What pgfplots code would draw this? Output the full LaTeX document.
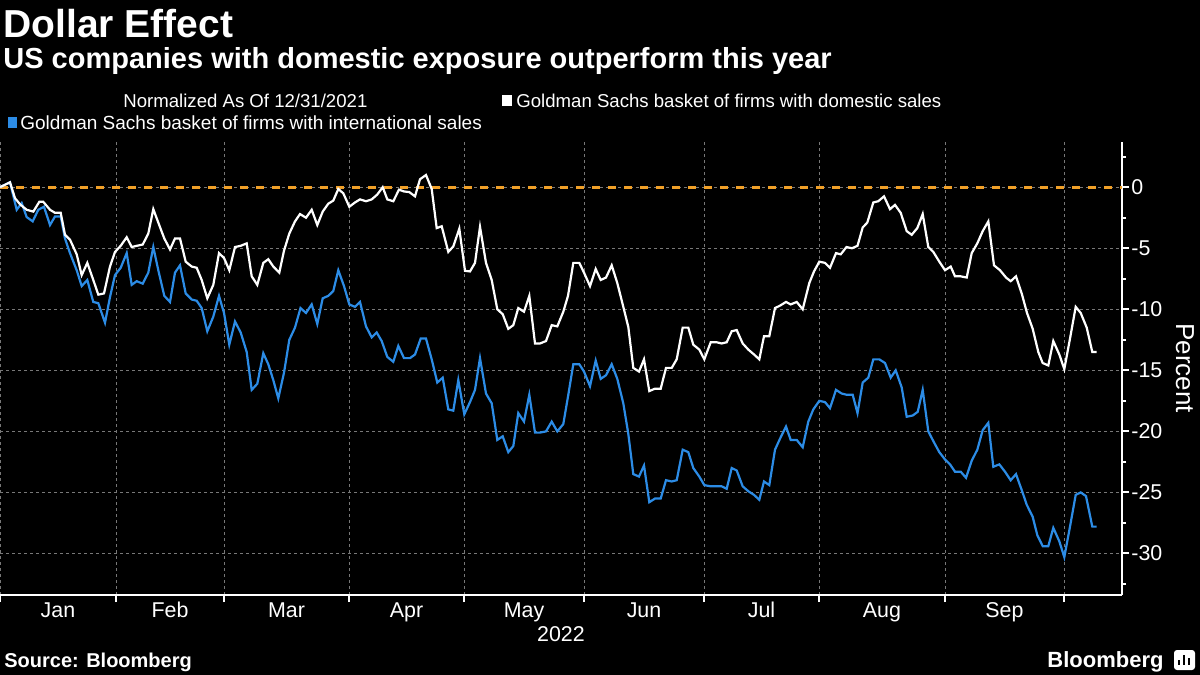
\documentclass[border=0pt]{standalone}
\usepackage{fontspec}
\setmainfont{Liberation Sans}
\usepackage{pgfplots}
\pgfplotsset{compat=1.18}
\definecolor{bblue}{RGB}{44,140,230}
\definecolor{borange}{RGB}{240,160,40}
\definecolor{bgrid}{RGB}{120,120,120}
\begin{document}
\begin{tikzpicture}
\fill[black] (0,0) rectangle (600pt,-337.5pt);
\begin{axis}[
  at={(0pt,-297.5pt)}, anchor=south west,
  scale only axis, width=561pt, height=226.5pt,
  xmin=0, xmax=1122, ymin=-33.4, ymax=3.7,
  axis x line*=bottom, axis y line*=right,
  axis line style={white, line width=1pt},
  xtick={0,116,224,349,464,584,704,819,945,1064},
  xticklabels={},
  extra x ticks={58,170,286.5,406.5,524,644,761.5,882,1004.5},
  extra x tick labels={Jan,Feb,Mar,Apr,May,Jun,Jul,Aug,Sep},
  extra x tick style={grid=none, major tick length=0pt, xticklabel style={anchor=base, inner sep=0pt, yshift=-11pt}},
  ytick={-30,-25,-20,-15,-10,-5,0},
  minor ytick={-32.5,-27.5,-22.5,-17.5,-12.5,-7.5,-2.5,2.5},
  /pgf/number format/assume math mode=true,
  yticklabel style={anchor=west, inner sep=0pt, xshift=1pt},
  xmajorgrids, ymajorgrids,
  major grid style={bgrid, line width=0.5pt, dash pattern=on 1.5pt off 1.5pt},
  tick align=outside,
  major tick length=3.5pt, minor tick length=2pt,
  every tick/.style={white, line width=1pt},
  tick label style={white, font=\fontsize{10.7}{12}\selectfont},
]
\addplot[borange, line width=1.4pt, dash pattern=on 4pt off 4pt] coordinates {(0,0) (1122,0)};
\addplot[bblue, line width=1.1pt] coordinates {
(0,0) (10,0.4) (16.7,-1.85) (21.7,-1.3) (26.7,-2.45) (32.7,-2.8) (38.3,-1.85) (44,-1.6) (50,-3.1) (55,-2.4) (60.7,-2.4) (65,-4.2) (70,-5.4) (76.7,-6.8) (81.7,-8.1) (87.3,-7.6) (93.3,-9.4) (98.3,-9.5) (105,-11.1) (110,-9.0) (115,-7.2) (120.7,-6.6) (126.7,-5.4) (131.7,-8.0) (136.7,-7.7) (142.7,-7.9) (148.3,-7.0) (153.3,-4.9) (158.3,-6.8) (164.3,-8.9) (170,-9.4) (175,-7.0) (180,-6.4) (185.7,-8.7) (191.7,-9.2) (196.7,-9.3) (201.7,-9.9) (207.3,-11.8) (213.3,-10.6) (219,-8.9) (224,-10.3) (229.3,-12.9) (235,-11.0) (240.7,-11.9) (246.7,-13.5) (251.7,-16.6) (257.3,-16.1) (263.3,-13.6) (268.3,-14.5) (273.3,-15.8) (278.3,-17.3) (284,-15.2) (289.3,-12.5) (295,-11.5) (300.5,-9.9) (306,-10.3) (311.7,-9.6) (317.3,-11.2) (322.7,-9.1) (328.3,-8.9) (333.3,-8.5) (338.3,-6.8) (344,-8.1) (349.3,-9.6) (355,-9.8) (360,-9.4) (366,-11.4) (371.7,-12.3) (376.7,-11.9) (381.7,-12.6) (387.3,-13.9) (393.3,-14.3) (398.3,-13.0) (404,-14.0) (410,-14.0) (415,-13.7) (420.7,-12.4) (426,-12.4) (431.7,-14.1) (437.3,-16.0) (442.7,-15.6) (448.3,-18.2) (453.3,-18.3) (458.3,-15.8) (464.3,-18.6) (470,-17.6) (475,-16.6) (480,-14.0) (486,-16.9) (491.7,-17.7) (497.3,-20.7) (502.7,-20.4) (508.3,-21.7) (513.3,-21.2) (518.3,-18.5) (524,-19.2) (529.3,-17.0) (535,-20.1) (540,-20.1) (546,-20.0) (551.7,-19.2) (557.3,-20.0) (563.3,-19.4) (568.3,-17.0) (573.3,-14.5) (579.3,-14.5) (584,-15.1) (590,-16.3) (595.7,-14.2) (600.7,-15.7) (606,-15.4) (611.7,-14.5) (617.3,-15.7) (623.3,-17.7) (628.3,-20.2) (633.3,-23.5) (639,-23.7) (644,-22.8) (649.3,-25.8) (655,-25.5) (660.7,-25.5) (666,-24.0) (671.7,-24.1) (676.7,-24.0) (682.7,-21.5) (688.3,-21.7) (693.3,-23.0) (699.3,-23.7) (704.3,-24.4) (710.7,-24.5) (716.7,-24.5) (721.7,-24.5) (726.7,-24.7) (731.7,-23.0) (736.7,-23.2) (742.7,-24.5) (748.3,-24.9) (754,-25.2) (759.3,-25.6) (764,-24.1) (769.3,-24.4) (775,-21.5) (780,-20.6) (786,-19.6) (790.7,-20.7) (796.7,-20.7) (802.7,-21.3) (808.3,-19.2) (813.3,-18.2) (819.3,-17.5) (825,-17.6) (830,-18.1) (836,-16.6) (841.7,-16.9) (846.7,-17.0) (852.7,-17.0) (857.5,-18.5) (862.7,-16.0) (868.3,-15.6) (873.3,-14.1) (879.3,-14.1) (885,-14.4) (890.7,-15.6) (895.7,-15.0) (901.7,-16.4) (906.7,-18.8) (912.7,-18.7) (917.7,-18.4) (922.7,-16.6) (928.3,-20.0) (934,-20.9) (939.3,-21.7) (945,-22.3) (950,-22.7) (955,-23.3) (960.7,-23.3) (966,-23.8) (971.7,-22.4) (977.3,-21.5) (982.7,-19.9) (988.3,-19.3) (993.3,-22.9) (999.3,-22.7) (1005,-23.3) (1010.7,-24.0) (1016,-23.5) (1021.7,-24.8) (1026.7,-26.0) (1032.7,-27.0) (1037.3,-28.5) (1042.7,-29.4) (1048.3,-29.4) (1053.3,-27.9) (1059.3,-29.0) (1064.3,-30.3) (1070,-27.8) (1075.7,-25.2) (1080.7,-25.0) (1086,-25.3) (1092.3,-27.8) (1096.7,-27.8)
};
\addplot[white, line width=1.1pt] coordinates {
(0,0) (10,0.4) (15,-0.9) (20,-1.4) (26.7,-1.85) (33.3,-2.0) (39.3,-1.2) (43.3,-1.2) (50,-1.85) (55,-2.1) (60.7,-2.1) (65,-3.9) (70,-4.3) (76.7,-5.5) (81.7,-7.2) (87.3,-6.2) (93.3,-7.6) (98.3,-8.8) (104,-8.7) (110,-6.5) (115,-5.3) (120.7,-4.8) (126.7,-4.1) (131.7,-4.9) (136.7,-4.8) (142.7,-4.7) (148.3,-3.8) (153.3,-1.8) (158.3,-2.9) (164.3,-4.2) (170,-5.1) (175,-4.2) (180,-4.2) (185.7,-6.1) (191.7,-6.5) (196.7,-6.6) (201.7,-7.6) (207.3,-9.1) (213.3,-8.0) (219,-5.4) (224,-5.8) (229.3,-6.8) (235,-4.9) (240.7,-4.8) (246.7,-4.6) (251.7,-7.3) (257.3,-8.0) (263.3,-6.2) (268.3,-5.9) (273.3,-6.5) (279.3,-7.0) (284,-5.2) (289.3,-3.8) (295,-2.8) (300,-2.2) (306,-2.5) (311.7,-1.85) (317.3,-3.1) (322.7,-2.0) (328.3,-1.35) (333.3,-1.1) (338.3,-0.15) (343.3,-0.5) (349.3,-1.6) (355,-1.25) (360,-1.0) (366,-1.15) (371.7,-1.0) (377.3,-0.6) (382.7,0) (387.3,-1.0) (393.3,-1.15) (399,-0.2) (404,-0.35) (409.3,-0.4) (415,-0.75) (420,0.65) (426,1.0) (431.7,-0.15) (436.7,-3.35) (441.7,-3.2) (448.3,-5.3) (453.3,-4.85) (459.3,-3.4) (465,-6.85) (470,-6.9) (475,-6.2) (480,-3.25) (486,-6.2) (491.7,-7.6) (497.3,-10.0) (502.7,-10.4) (508.3,-11.6) (513.3,-11.3) (518.3,-9.9) (524,-10.2) (529.3,-8.9) (535,-12.8) (540,-12.8) (546,-12.6) (551.7,-11.3) (557.3,-11.4) (563.3,-10.2) (568,-8.9) (573.3,-6.2) (579.3,-6.2) (584,-7.0) (590,-8.1) (595.7,-6.7) (600.7,-7.6) (606,-7.4) (611.7,-6.4) (617.3,-7.85) (623.3,-9.8) (628.3,-11.45) (633.3,-14.8) (639,-15.1) (644,-14.1) (649.3,-16.7) (655,-16.5) (660.7,-16.5) (666,-14.8) (671.7,-14.8) (676.7,-14.1) (682.7,-11.5) (688.3,-11.5) (693.3,-12.9) (699.3,-13.3) (704.3,-14.1) (710.7,-12.7) (716.7,-12.7) (721.7,-12.8) (726.7,-12.7) (731.7,-11.8) (736.7,-11.7) (742.7,-12.8) (748.3,-13.3) (754,-13.7) (759.3,-14.1) (764,-12.2) (769.3,-12.2) (775,-9.9) (780,-9.7) (786,-9.4) (790.7,-9.6) (796.7,-9.4) (802.7,-10.0) (809.3,-7.85) (814,-6.9) (819.3,-6.1) (825,-6.2) (830,-6.6) (836,-5.4) (840.7,-5.5) (846.5,-4.9) (852,-5.0) (857.5,-4.8) (862.7,-3.3) (867.3,-2.9) (873.3,-1.25) (878.3,-1.15) (884,-0.75) (890,-1.8) (895,-1.45) (900.7,-2.1) (906.7,-3.6) (911.7,-3.9) (917.3,-3.35) (922.7,-2.2) (928.3,-4.9) (933.3,-5.3) (939.3,-6.1) (945,-6.8) (950.7,-6.5) (955,-7.3) (960.7,-7.3) (966.7,-7.4) (971.7,-5.4) (977.3,-4.6) (982.7,-3.6) (988.3,-2.8) (994,-6.4) (1000,-6.8) (1006,-7.4) (1010.7,-7.7) (1016,-7.3) (1021.7,-8.7) (1027,-10.3) (1032.7,-11.6) (1038.3,-13.5) (1042.7,-14.4) (1048.3,-14.6) (1053.3,-12.6) (1059.3,-13.7) (1064.3,-14.9) (1070,-12.4) (1075.7,-9.8) (1080.7,-10.3) (1086.7,-11.5) (1092.3,-13.5) (1096.7,-13.5)
};
\end{axis}
\begin{scope}[x=0.5pt, y=-0.5pt]
\node[anchor=base west, inner sep=0pt, white, font=\bfseries\fontsize{19.5}{22}\selectfont] at (3,37) {Dollar Effect};
\node[anchor=base west, inner sep=0pt, white, font=\bfseries\fontsize{14.5}{17}\selectfont] at (3,68) {US companies with domestic exposure outperform this year};
\node[anchor=base west, inner sep=0pt, white, font=\fontsize{9.3}{11}\selectfont] at (123,107) {Normalized As Of 12/31/2021};
\fill[white] (502,95) rectangle (512,106);
\node[anchor=base west, inner sep=0pt, white, font=\fontsize{9.3}{11}\selectfont] at (516,107) {Goldman Sachs basket of firms with domestic sales};
\fill[bblue] (8,117) rectangle (17,128);
\node[anchor=base west, inner sep=0pt, white, font=\fontsize{9.5}{11}\selectfont] at (20,129) {Goldman Sachs basket of firms with international sales};
\node[rotate=-90, inner sep=0pt, white, font=\fontsize{13}{15}\selectfont] at (1185,368) {Percent};
\node[anchor=base, inner sep=0pt, white, font=\fontsize{10.7}{12}\selectfont] at (561,641) {2022};
\node[anchor=base west, inner sep=0pt, white, font=\bfseries\fontsize{10}{12}\selectfont] at (4,667) {Source: Bloomberg};
\node[anchor=base west, inner sep=0pt, white, font=\bfseries\fontsize{11}{13}\selectfont] at (1047,667) {Bloomberg};
\fill[white, rounded corners=1.5pt] (1174,650) rectangle (1195,670);
\fill[black] (1178,665) rectangle (1180,660);
\fill[black] (1183,665) rectangle (1185,655);
\fill[black] (1188,665) rectangle (1190,658);
\end{scope}
\pgfresetboundingbox
\path (0,0) rectangle (600pt,-337.5pt);
\end{tikzpicture}
\end{document}
